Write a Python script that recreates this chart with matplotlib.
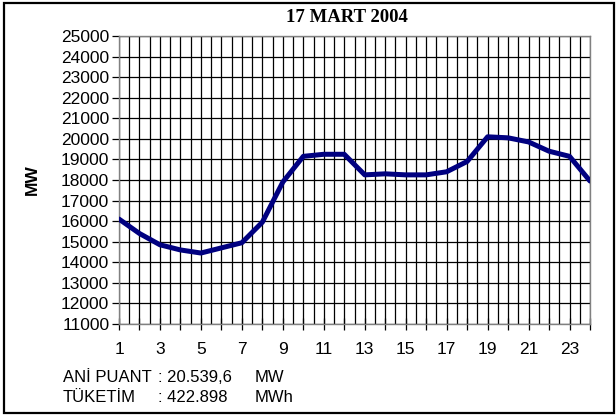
import matplotlib
matplotlib.use("Agg")
import matplotlib.pyplot as plt
import numpy as np

# hourly load, 17 March 2004
hours = list(range(1, 25))
load_mw = [16100, 15400, 14850, 14600, 14450, 14700, 14950, 15950,
           17900, 19150, 19250, 19250, 18250, 18300, 18250, 18250,
           18400, 18900, 20100, 20050, 19850, 19400, 19150, 17950]
yticks = list(range(11000, 25001, 1000))
xlabels = [1, 3, 5, 7, 9, 11, 13, 15, 17, 19, 21, 23]
title = "17 MART 2004"
info = [("ANİ PUANT", ": 20.539,6", "MW"), ("TÜKETİM", ": 422.898", "MWh")]

fig = plt.figure(figsize=(6.16, 4.16), dpi=100)
ax = fig.add_axes([119/616, 1-324/416, (590-119)/616, (324-36)/416])

# grid: every 1000 MW and every half hour
ax.set_xlim(1, 24)
ax.set_ylim(11000, 25000)
ax.set_yticks(yticks)
ax.set_xticks(hours)
ax.set_xticks(np.arange(1.5, 24, 1.0), minor=True)
ax.set_xticklabels([str(h) if h in xlabels else "" for h in hours])
ax.grid(True, which="major", color="black", lw=0.9)
ax.grid(True, which="minor", axis="x", color="black", lw=0.9)
ax.tick_params(axis="x", which="major", direction="inout", length=8, width=0.9,
               labelsize=12.5, pad=9)
ax.tick_params(axis="x", which="minor", length=0)
ax.tick_params(axis="y", direction="out", length=5, width=0.9, labelsize=12.5, pad=2)
for s in ax.spines.values():
    s.set_color("#808080")
    s.set_linewidth(1.0)
for lab in ax.get_xticklabels() + ax.get_yticklabels():
    lab.set_fontfamily("Liberation Sans")

ax.plot(hours, load_mw, color="#000080", lw=3.6, solid_joinstyle="round",
        solid_capstyle="round", zorder=5)

ax.set_ylabel("MW", fontsize=12.5, fontweight="bold", fontfamily="Liberation Sans",
              labelpad=15)
fig.text(347/616, 1-17/416, title, ha="center", va="center", fontsize=13.5,
         fontweight="bold", fontfamily="Liberation Serif")

for i, (a, b, c) in enumerate(info):
    yy = 1 - (378 + 19*i)/416
    fig.text(63/616, yy, a, ha="left", va="center", fontsize=12,
             fontfamily="Liberation Sans")
    fig.text(158/616, yy, b, ha="left", va="center", fontsize=12,
             fontfamily="Liberation Sans")
    fig.text(255/616, yy, c, ha="left", va="center", fontsize=12,
             fontfamily="Liberation Sans")

# outer frame
fig.patches.append(plt.Rectangle((4/616, 3/416), 610/616, 410/416,
                                 transform=fig.transFigure, fill=False,
                                 edgecolor="black", lw=1.6))

fig.savefig("out.png", dpi=100)
